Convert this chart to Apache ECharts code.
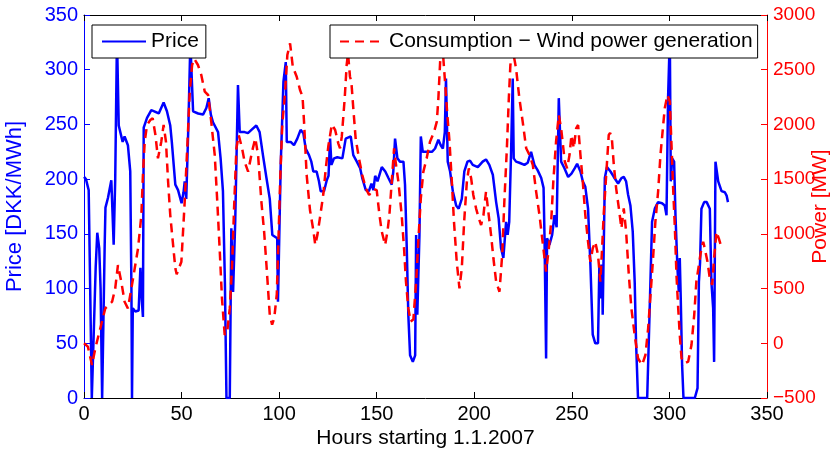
<!DOCTYPE html>
<html>
<head>
<meta charset="utf-8">
<script src="https://cdn.jsdelivr.net/npm/echarts@6/dist/echarts.min.js"></script>
<style>
html,body{margin:0;padding:0;background:#fff;}
#chart{width:832px;height:453px;}
</style>
</head>
<body>
<div id="chart"></div>
<script>
// Price [DKK/MWh] (left axis)
var priceHours = [0,1,2.4,3,4,5,6,6.8,7.8,8.5,9.3,9.9,10.6,11,12.3,13.2,14,14.6,15.2,16,16.9,17.8,19,19.8,20.8,22.5,23.7,24.3,24.6,25,26.3,28,28.9,29.6,30.2,30.6,32.3,34.5,36,38.3,40.8,42.5,44.2,45,46.8,48.2,50,51,51.6,52.4,53.5,54.5,55.9,58.5,61,62.7,63.9,65,66.1,68.7,70,71.2,72.2,73,74.7,75.5,76.4,77.5,78.9,79.8,82.3,84,85.8,88.3,90,91.7,93.5,95.2,96.5,99,99.4,100.8,102.2,103.4,103.9,105.9,107.6,109.3,111,112.4,113.6,115.3,116.5,117.5,119.2,120.4,121.3,123,124.4,125.3,126.1,126.8,128.1,129.8,132.4,134.1,136.7,138,139.8,141.5,142.6,144.4,146,147.3,148.3,149.2,150.4,152.6,154.4,156,157.7,158.5,159.4,160.6,161.9,163.7,164.5,165.4,166.2,167.1,168.5,169.7,170.2,170.8,171.9,172.6,173.6,175.7,178.3,179.9,181.6,182.8,183.9,184.9,185.5,186.4,187.6,189,190.7,192,193.6,194.9,196.5,197.8,199.2,201.8,204.3,206,207.7,209.5,211.2,212.5,213.7,214.9,216.3,217.1,217.9,218.9,219.7,220.2,221.4,223.1,225.7,227.4,229.1,230.8,232.5,234.3,235.5,236,236.8,237.3,238.5,239.9,241.1,242.2,243.3,244.5,246.2,248.1,249.8,251.5,252.7,254.4,255.6,256.9,258.3,259.5,260.7,262,263.4,264.1,264.8,265.5,265.8,266.9,268,269.8,271.5,273.7,275.4,276.6,277.8,278.8,280,281.2,282.2,282.9,283.9,288.6,289.8,291.1,292.5,294.2,296.2,297.6,298.5,299.3,300.2,300.7,301.4,302.4,303.1,304.1,304.8,305.3,305.8,306.5,307.2,313,314.4,315.1,315.7,316.4,317.8,319.1,320.7,321.5,322.4,322.9,323.6,325,326.7,328.4,329.3,330];
var priceValues = [202,200,190,120,0,0,120,151,137,100,0,0,140,174,183,183,199,170,140,200,330,249,240,234,239,231,207,100,0,82,79,80,119,90,74,247,256,263,262,260,270,262,249,234,195,190,178,188,198,182,250,325,262,260,259,265,274,259,252,243,219,189,106,0,0,155,97,162,286,243,243,242,245,249,243,222,201,182,149,146,88,213,289,307,234,234,231,237,245,242,228,222,216,207,207,198,189,189,199,203,237,213,219,220,219,237,239,222,216,210,201,190,189,196,190,203,198,211,207,201,195,207,237,219,216,216,195,137,76,39,33,39,149,76,149,239,225,225,225,228,236,231,228,243,292,216,207,189,176,173,182,207,216,217,213,211,216,218,213,204,179,164,137,128,161,149,161,228,292,219,216,215,213,215,225,213,208,201,192,146,36,146,140,149,167,156,274,216,210,202,205,210,214,207,198,193,173,122,58,50,50,122,91,122,76,201,211,207,202,196,201,202,198,186,176,152,106,51,0,0,76,161,173,179,178,176,167,274,330,198,219,216,167,119,97,128,91,30,0,0,9,106,124,173,179,179,173,106,82,33,216,198,189,188,185,179];

// Consumption - Wind power generation [MW] (right axis)
var powerHours = [0,2,4.1,5.8,7.5,9.2,10.9,12.6,14.4,16,17.4,19.1,20.8,22.5,24.3,26,27.7,29.4,30.2,31.1,32.3,34,35.2,36.6,37.9,39.6,40.8,42,43.1,44.2,45.5,46.8,47.5,48.5,49.9,51.6,52.9,54.2,55.4,56.5,58.4,60.1,61.9,63.6,65.2,67,68.3,69.5,70.7,72.1,73.4,74.7,75.9,76.9,78.1,79.3,81,82.3,84.1,86.1,87.8,89.2,90.9,92.3,93.5,95.2,96.4,97.5,98.8,99.6,100.5,101.6,103,104.2,105.6,107,109,110.7,112,112.8,114.1,115.8,117.5,118.5,119.6,121,122.7,123.9,125.2,127,128.7,130.3,131.2,132.1,133.6,134.6,135.3,136.3,137,138,139.2,140.9,142.6,144.4,146.1,148.3,150,151.4,152.6,154.3,155.5,156.5,157.7,158.9,159.9,161.1,162.8,164,165,166.2,167.4,168.8,170.2,171.3,172.6,173.9,175.6,177.3,179.4,180.8,181.6,182.5,183.5,185,186.2,187.3,188.5,189.6,191,192.4,193.6,194.8,196.2,197.2,198.4,199.5,200.9,202.3,203.5,204.7,206,207.4,208.6,209.8,211.2,212.9,214.3,215.4,216.7,217.7,218.5,219.7,221.4,223.1,224.8,226.6,228.3,230,231.7,233.4,235.4,236.8,238.2,239.4,240.5,241.9,243.3,244.5,246.4,247.6,248.8,249.8,251,252.2,253.2,254.4,255.6,256.9,258.3,259.5,260.7,262,263.4,264.6,265.5,266.3,267.6,268.9,269.6,270.5,271.5,272.7,274.1,275.4,276.6,277.8,279.2,280.5,282.2,283.9,286,287.7,289.1,290.3,291.5,292.8,294.2,295.4,296.8,297.6,299,300.2,301,301.9,302.8,303.6,304.5,305.3,306.2,307.9,309.6,311.3,312.7,313.8,315.1,316.4,317.3,318.1,319.5,320.7,321.9,322.9,324.1,325.3,326.3,327.5];
var powerValues = [0,-31,-198,-46,76,197,319,349,380,502,715,563,380,319,502,685,868,1172,1538,1842,1995,2040,2056,1903,1690,1842,1995,1842,1477,1172,928,685,630,680,745,1294,1782,2299,2543,2600,2543,2452,2299,2269,2025,1720,1294,868,411,76,106,319,715,1233,1782,1903,1782,1659,1568,1751,1873,1720,1294,1020,715,258,170,230,450,916,1477,2000,2284,2634,2741,2527,2436,2315,2253,2010,1538,1218,1035,900,989,1157,1371,1599,1800,2000,1949,1827,1782,1888,2239,2543,2650,2436,2391,2147,1873,1690,1538,1416,1355,1410,1400,1172,1020,898,1020,1172,1477,1782,1629,1477,1172,868,563,319,197,220,563,928,1325,1568,1690,1842,1933,2025,2239,2573,2760,2391,2086,1842,1477,1111,745,502,685,1111,1477,1599,1507,1355,1233,1142,1081,1172,1386,1172,989,777,563,471,807,1294,1782,2239,2543,2680,2513,2239,2025,1782,1720,1629,1386,1172,868,654,868,1111,1477,1842,2086,1964,1659,1599,1720,1903,1782,1964,1995,1720,1477,1172,928,745,868,928,807,563,868,1172,1538,1903,1922,1873,1629,1416,1233,1051,1233,1020,624,319,76,-137,-198,-107,137,441,745,1111,1386,1720,1995,2147,2269,2208,1842,1416,1051,624,319,76,-137,-183,-168,-16,258,563,715,868,928,868,745,594,533,777,1020,959,898,868];

var priceName = 'Price';
var powerName = 'Consumption \u2212 Wind power generation';
var xTitle = 'Hours starting 1.1.2007';
var leftTitle = 'Price [DKK/MWh]';
var rightTitle = 'Power [MW]';

var FONT = 'Liberation Sans, Arial, Helvetica, sans-serif';
var BLUE = '#0000ff', RED = '#ff0000';
var hiddenSymbol = {opacity: 0, color: 'rgba(0,0,0,0)', borderColor: 'rgba(0,0,0,0)', borderWidth: 0};

var chart = echarts.init(document.getElementById('chart'), null, {renderer: 'canvas'});
chart.setOption({
  animation: false,
  backgroundColor: '#ffffff',
  textStyle: {fontFamily: FONT},
  grid: {left: 84, right: 65, top: 15, bottom: 55, containLabel: false, outerBoundsMode: 'none'},
  legend: [
    {
      data: [priceName], left: 92, top: 25,
      backgroundColor: '#fff', borderColor: '#000', borderWidth: 1, borderRadius: 0,
      padding: [6, 7, 6, 9], itemWidth: 44, itemHeight: 14, itemGap: 5,
      itemStyle: hiddenSymbol,
      textStyle: {fontSize: 21, color: '#000', fontFamily: FONT}
    },
    {
      data: [powerName], left: 330, top: 25,
      backgroundColor: '#fff', borderColor: '#000', borderWidth: 1, borderRadius: 0,
      padding: [6, 5, 6, 9], itemWidth: 44, itemHeight: 14, itemGap: 5,
      itemStyle: hiddenSymbol,
      textStyle: {fontSize: 21, color: '#000', fontFamily: FONT}
    }
  ],
  xAxis: [
    {
      type: 'value', position: 'bottom', min: 0, max: 350, interval: 50,
      name: xTitle, nameLocation: 'middle', nameGap: 30, nameMoveOverlap: false,
      nameTextStyle: {fontSize: 21, color: '#000', fontFamily: FONT},
      axisLine: {onZero: false, lineStyle: {color: '#000', width: 1}},
      axisTick: {inside: true, length: 6, lineStyle: {color: '#000'}},
      axisLabel: {fontSize: 20, color: '#000', margin: 6, fontFamily: FONT},
      splitLine: {show: false}
    },
    {
      type: 'value', position: 'top', min: 0, max: 350, interval: 50,
      axisLine: {onZero: false, lineStyle: {color: '#000', width: 1}},
      axisTick: {inside: true, length: 6, lineStyle: {color: '#000'}},
      axisLabel: {show: false},
      splitLine: {show: false}
    }
  ],
  yAxis: [
    {
      type: 'value', position: 'left', min: 0, max: 350, interval: 50,
      name: leftTitle, nameLocation: 'middle', nameGap: 58, nameRotate: 90, nameMoveOverlap: false,
      nameTextStyle: {fontSize: 22, color: BLUE, fontFamily: FONT},
      axisLine: {show: true, onZero: false, lineStyle: {color: BLUE, width: 1}},
      axisTick: {show: true, inside: true, length: 6, lineStyle: {color: BLUE}},
      axisLabel: {fontSize: 20, color: BLUE, margin: 6, fontFamily: FONT},
      splitLine: {show: false}
    },
    {
      type: 'value', position: 'right', min: -500, max: 3000, interval: 500,
      name: rightTitle, nameLocation: 'middle', nameGap: 43, nameRotate: 90, nameMoveOverlap: false,
      nameTextStyle: {fontSize: 21, color: RED, fontFamily: FONT},
      axisLine: {show: true, onZero: false, lineStyle: {color: RED, width: 1}},
      axisTick: {show: true, inside: true, length: 6, lineStyle: {color: RED}},
      axisLabel: {fontSize: 19, color: RED, margin: 6, fontFamily: FONT,
        formatter: function (v) { return v < 0 ? '\u2212' + Math.abs(v) : String(v); }},
      splitLine: {show: false}
    }
  ],
  series: [
    {
      name: priceName, type: 'line', xAxisIndex: 0, yAxisIndex: 0,
      symbol: 'none', showSymbol: false,
      lineStyle: {color: BLUE, width: 2.5},
      itemStyle: {color: BLUE},
      data: priceHours.map(function (h, i) { return [h, priceValues[i]]; }),
      z: 2
    },
    {
      name: powerName, type: 'line', xAxisIndex: 0, yAxisIndex: 1,
      symbol: 'none', showSymbol: false,
      lineStyle: {color: RED, width: 2.5, type: [9, 6]},
      itemStyle: {color: RED},
      data: powerHours.map(function (h, i) { return [h, powerValues[i]]; }),
      z: 3
    }
  ]
});
</script>
</body>
</html>
